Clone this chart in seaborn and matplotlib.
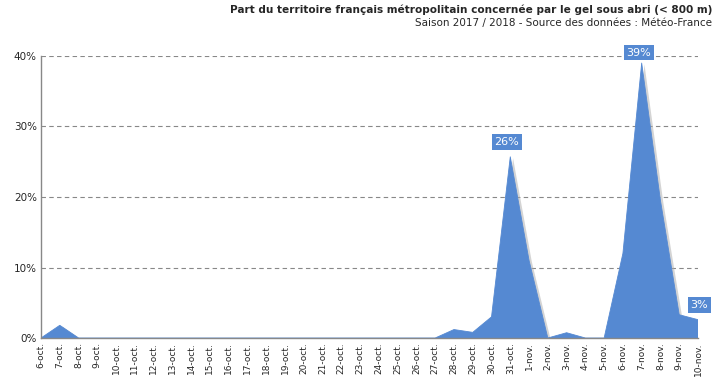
import pandas as pd
import matplotlib
matplotlib.use("Agg")
import matplotlib.pyplot as plt
import matplotlib.patheffects as pe
import seaborn as sns

# Dates of the season (6 oct. -> 10 nov.)
days = [f"{d}-oct." for d in range(6, 32)] + [f"{d}-nov." for d in range(1, 11)]
# Share of territory with frost (%)
frost_pct = [0, 1.8, 0, 0, 0, 0, 0, 0, 0, 0,
             0, 0, 0, 0, 0, 0, 0, 0, 0, 0,
             0, 0, 1.2, 0.8, 3.0, 25.7,
             11.0, 0, 0.75, 0, 0, 12.0, 39.0, 19.5, 3.3, 2.6]
labelled = {"31-oct.": "26%", "7-nov.": "39%", "10-nov.": "3%"}
# label offsets in points (dx, dy)
label_offsets = {"31-oct.": (-2.5, 10.5), "7-nov.": (-2, 7.5), "10-nov.": (1, 10.5)}

blue = "#5589d2"
df = pd.DataFrame({"day": days, "pct": frost_pct})
df["pos"] = range(len(df))

sns.set_style("white")
plt.rcParams["font.family"] = ["DejaVu Sans"]

fig = plt.figure(figsize=(7.15, 3.86), dpi=100)
ax = fig.add_axes([41 / 715, 1 - 338 / 386, 657 / 715, 282 / 386])

area = ax.fill_between(df["pos"], df["pct"], 0, color=blue, linewidth=0, zorder=3)
area.set_path_effects([pe.SimplePatchShadow(offset=(2, -1), shadow_rgbFace="#aaaaaa", alpha=0.5),
                       pe.Normal()])
sns.lineplot(data=df, x="pos", y="pct", color=blue, linewidth=0.6, ax=ax, zorder=4)

for _, row in df.iterrows():
    if row["day"] in labelled:
        ax.annotate(labelled[row["day"]], (row["pos"], row["pct"]),
                    xytext=label_offsets[row["day"]], textcoords="offset points",
                    ha="center", va="center", color="white", fontsize=8, zorder=6,
                    bbox=dict(boxstyle="square,pad=0.25", facecolor=blue, edgecolor="none"),
                    annotation_clip=False)

ax.set_xlim(0, len(df) - 1)
ax.set_ylim(0, 40)
ax.set_yticks([0, 10, 20, 30, 40])
ax.set_yticklabels([f"{v}%" for v in [0, 10, 20, 30, 40]], fontsize=7.5)
ax.set_xticks(df["pos"])
ax.set_xticklabels(df["day"], rotation=90, fontsize=6.5)
ax.tick_params(axis="both", length=0, pad=3)
ax.set_xlabel("")
ax.set_ylabel("")

for v in [10, 20, 30, 40]:
    ax.axhline(v, color="#888888", linestyle=(0, (4, 3)), linewidth=0.8, zorder=1)

for side in ["top", "right"]:
    ax.spines[side].set_visible(False)
for side in ["left", "bottom"]:
    ax.spines[side].set_color("#888888")
    ax.spines[side].set_linewidth(1)
    ax.spines[side].set_zorder(5)

fig.text(712 / 715, 1 - 10 / 386,
         "Part du territoire français métropolitain concernée par le gel sous abri (< 800 m)",
         ha="right", va="center", fontsize=7.6, fontweight="bold")
fig.text(712 / 715, 1 - 23 / 386,
         "Saison 2017 / 2018 - Source des données : Météo-France",
         ha="right", va="center", fontsize=7.5)

fig.savefig("out.png", dpi=100)
